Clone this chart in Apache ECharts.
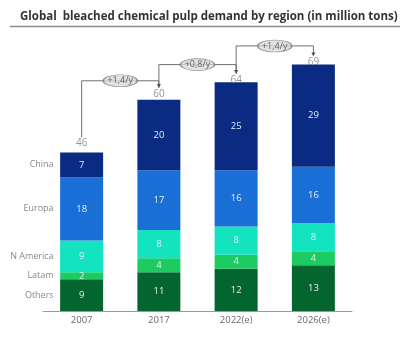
<!DOCTYPE html>
<html><head><meta charset="utf-8">
<script src="https://cdn.jsdelivr.net/npm/echarts@6/dist/echarts.min.js"></script>
<style>html,body{margin:0;padding:0;background:#fff}#c{width:409px;height:338px}</style>
</head><body><div id="c"></div>
<script>
const categories = ['2007', '2017', '2022(e)', '2026(e)'];
const seriesNames = ['Others', 'Latam', 'N America', 'Europa', 'China'];
const others = [9, 11, 12, 13];
const latam = [2, 4, 4, 4];
const nAmerica = [9, 8, 8, 8];
const europa = [18, 17, 16, 16];
const china = [7, 20, 25, 29];
const totals = [46, 60, 64, 69];
const growthLabels = ['+1,4/y', '+0,8/y', '+1,4/y'];
const bracketLevels = [65.4, 70, 75.3];
const colors = ['#05652f', '#1ccc63', '#14e3bf', '#1a6fd6', '#0b2a82'];

const values = [others, latam, nAmerica, europa, china];
const font = 'Open Sans';

const series = values.map((arr, i) => ({
  name: seriesNames[i], type: 'bar', stack: 'total', barWidth: 43,
  xAxisIndex: 0, yAxisIndex: 0,
  itemStyle: { color: colors[i] },
  label: { show: true, position: 'inside', color: '#e4ecf6', fontSize: 9.5, fontFamily: font },
  data: arr
}));

// totals above bars
series.push({
  type: 'scatter', xAxisIndex: 0, yAxisIndex: 0, symbolSize: 0, silent: true,
  data: totals.map((t, i) => [categories[i], t]),
  label: { show: true, position: 'top', distance: 1, color: '#7a7a7a', fontSize: 10, fontFamily: font,
    formatter: p => p.value[1] }
});

// region labels to the left of the first bar
let cum = 0;
const regionPts = values.map((arr, i) => { const mid = cum + arr[0] / 2; cum += arr[0]; return { value: [0, mid], name: seriesNames[i] }; });
series.push({
  type: 'scatter', xAxisIndex: 1, yAxisIndex: 0, symbolSize: 0, silent: true,
  data: regionPts,
  label: { show: true, position: 'left', distance: 28, color: '#6a6a6a', fontSize: 9, fontFamily: font,
    formatter: p => p.name }
});

// growth brackets
growthLabels.forEach((g, i) => {
  const lvl = bracketLevels[i];
  series.push({
    type: 'line', xAxisIndex: 1, yAxisIndex: 0, silent: true, symbol: 'none',
    lineStyle: { color: '#707070', width: 1 },
    data: [
      [i, totals[i] + 3.4], [i, lvl], [i + 1, lvl],
      { value: [i + 1, totals[i + 1] + 3.9], symbol: 'triangle', symbolSize: [4, 4], symbolRotate: 180,
        itemStyle: { color: '#505050' } }
    ]
  });
  series.push({
    type: 'scatter', xAxisIndex: 1, yAxisIndex: 0, silent: true, z: 5,
    symbol: 'path://M0,6a17,6 0 1,0 34,0a17,6 0 1,0 -34,0z', symbolSize: [34, 12],
    itemStyle: { color: '#dadada', borderColor: '#777', borderWidth: 1 },
    data: [[i + 0.5, lvl]],
    label: { show: true, position: 'inside', color: '#444', fontSize: 9, fontFamily: font, formatter: g }
  });
});

const chart = echarts.init(document.getElementById('c'));
chart.setOption({
  animation: false,
  title: { text: 'Global  bleached chemical pulp demand by region (in million tons)', left: 15, top: 6,
    textStyle: { fontFamily: font, fontWeight: 'bold', fontSize: 11.5, color: '#333' } },
  graphic: [{ type: 'line', shape: { x1: 10, y1: 26.5, x2: 400, y2: 26.5 }, style: { stroke: '#8a8a8a', lineWidth: 1.5 } }],
  grid: { left: 43, right: 57, bottom: 27, top: 29.4 },
  xAxis: [
    { type: 'category', data: categories, axisTick: { show: false },
      axisLine: { lineStyle: { color: '#9a9a9a' } },
      axisLabel: { color: '#6a6a6a', fontSize: 9.5, fontFamily: font, margin: 4 } },
    { type: 'value', min: -0.5, max: 3.5, show: false }
  ],
  yAxis: { type: 'value', min: 0, max: 80, show: false, splitLine: { show: false } },
  series: series
});
</script></body></html>
